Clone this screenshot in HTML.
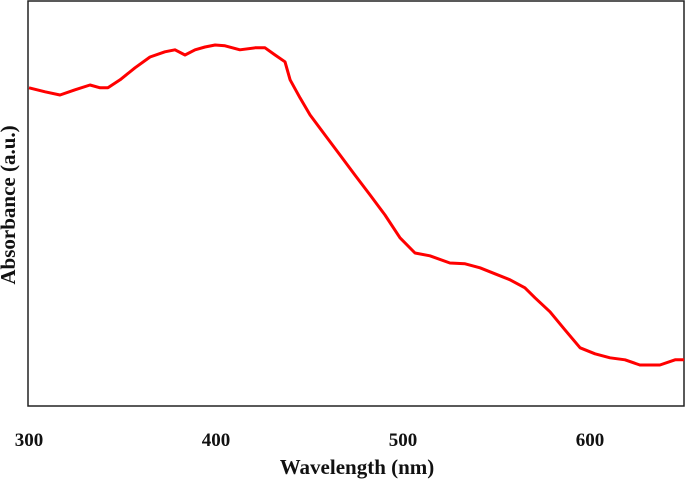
<!DOCTYPE html>
<html><head><meta charset="utf-8"><style>
body{margin:0;background:#fff;width:685px;height:483px;overflow:hidden}
svg text{font-family:"Liberation Serif",serif;font-weight:bold;fill:#111}
</style></head><body>
<svg width="685" height="483">
<rect x="28" y="1" width="656" height="405" fill="none" stroke="#222" stroke-width="1.5"/>
<g id="ticks"></g>
<path id="curve" fill="none" stroke="#f00" stroke-width="3" stroke-linejoin="round"/>
<text x="15" y="205" font-size="21" text-anchor="middle" transform="rotate(-90 15 205)">Absorbance (a.u.)</text>
<text x="357" y="474" font-size="21" text-anchor="middle">Wavelength (nm)</text>
</svg>
<script>
const wavelengths=[300,308.6,316.6,324.6,332.6,338,342.2,348.7,356.7,364.7,372.7,378.1,383.4,388.8,394.1,399.5,404.8,412.8,420.9,426.2,431.6,436.9,439.6,444.9,450.3,458.3,466.3,474.3,482.4,490.4,498.4,506.4,514.4,525.1,533.2,541.2,549.2,557.2,565.2,570.6,578.6,586.6,594.7,602.7,610.7,618.7,626.7,637.4,645.5,650.3];
const absorbance=[.793,.783,.775,.788,.80,.793,.793,.813,.843,.87,.883,.888,.875,.888,.895,.90,.898,.888,.893,.893,.875,.858,.813,.768,.725,.675,.625,.575,.525,.475,.418,.38,.373,.355,.353,.343,.328,.313,.293,.268,.233,.188,.143,.128,.118,.113,.10,.10,.113,.113];
const xTicks=[300,400,500,600];
const xTickLabels=["300","400","500","600"];
function xs(v){return 29+(v-300)*1.87;}
function ys(v){return 405-v*400;}
const curve=document.getElementById('curve');
curve.setAttribute('d',wavelengths.map((w,i)=>(i?'L':'M')+xs(w).toFixed(1)+' '+ys(absorbance[i]).toFixed(1)).join(' '));
const g=document.getElementById('ticks');
xTicks.forEach((t,i)=>{
  const tx=document.createElementNS('http://www.w3.org/2000/svg','text');
  tx.setAttribute('x',Math.max(28,xs(t)));
  tx.setAttribute('y',446);
  tx.setAttribute('font-size','19');
  tx.setAttribute('text-anchor','middle');
  tx.textContent=xTickLabels[i];
  
  
  g.appendChild(tx);
});
</script>
</body></html>
